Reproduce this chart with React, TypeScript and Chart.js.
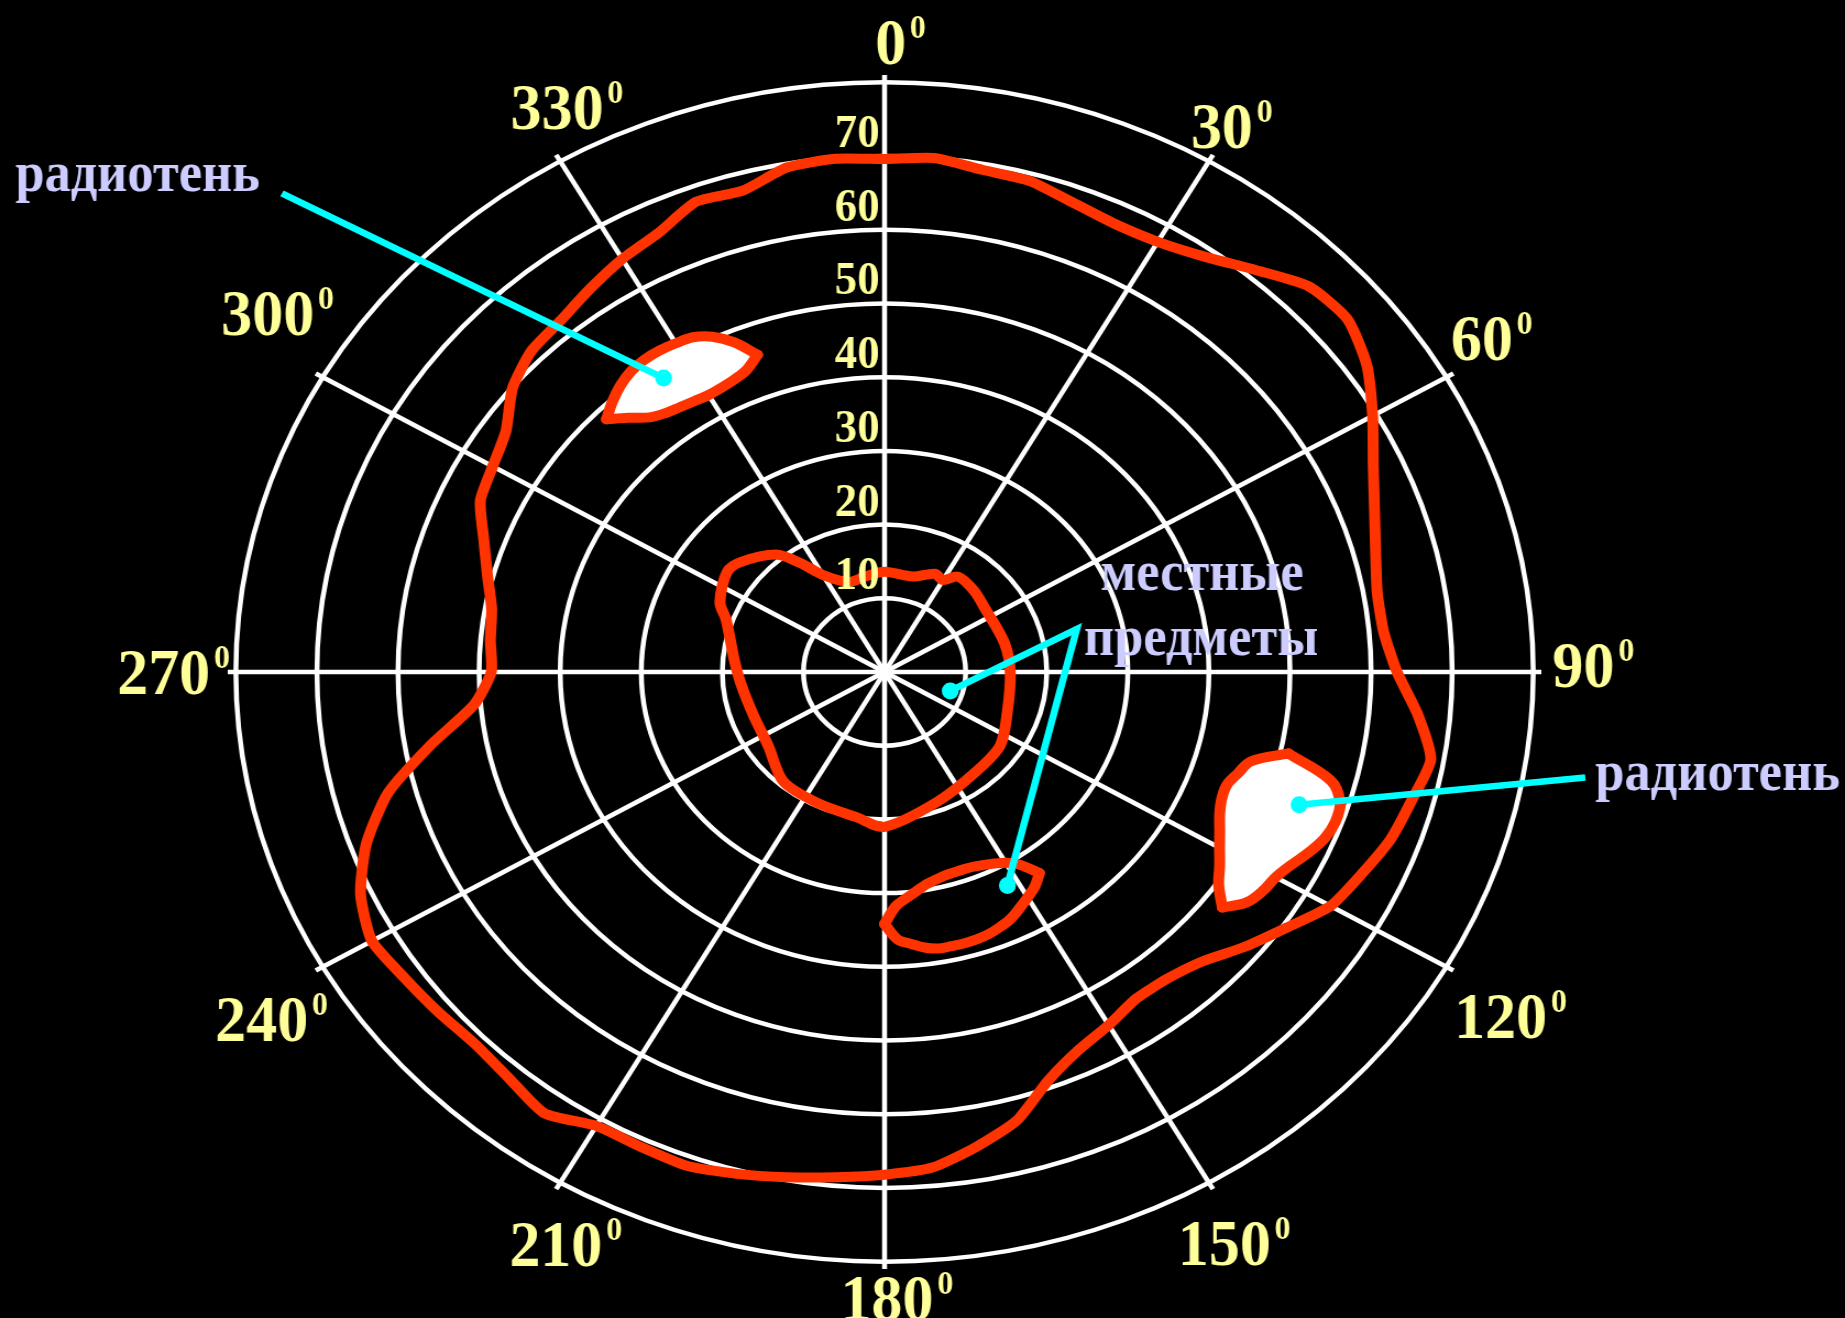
import React, { useEffect, useRef } from 'react';
import { Chart, registerables } from 'chart.js';

Chart.register(...registerables);

// ---------- page / stretch ----------
const PAGE_W = 1845;
const PAGE_H = 1318;
const CANVAS_W = 1677;
const STRETCH = PAGE_W / CANVAS_W; // the picture is drawn as an ellipse (wider than tall)

// ---------- categories (bearing, degrees, one slot every 2.5°) ----------
const ANGLE_STEP = 2.5;
const bearings = Array.from({ length: 360 / ANGLE_STEP }, (_, i) => i * ANGLE_STEP);

// ---------- radial axis ----------
const ringValues = [0, 10, 20, 30, 40, 50, 60, 70, 80];
const tickLabelValues = [10, 20, 30, 40, 50, 60, 70];
const tickLabels = ['10', '20', '30', '40', '50', '60', '70'];
const degreeLabels = ['0', '30', '60', '90', '120', '150', '180', '210', '240', '270', '300', '330'];

// ---------- series ----------
// detection range boundary
const coverageBearings = [
  0, 5, 10, 15, 20, 25, 30, 35, 40, 45, 50, 55,
  60, 65, 70, 75, 80, 85, 90, 95, 100, 105, 110, 115,
  120, 125, 130, 135, 140, 145, 150, 155, 160, 165, 170, 175,
  180, 185, 190, 195, 200, 205, 210, 215, 220, 225, 230, 235,
  240, 245, 250, 255, 260, 265, 270, 275, 280, 285, 290, 295,
  300, 305, 310, 315, 320, 325, 330, 335, 340, 345, 350, 355,
];
const coverage = [
  69.6, 70.0, 69.2, 69.0, 67.8, 67.1, 67.4, 68.8, 71.2, 74.0, 74.5, 72.6,
  69.5, 66.5, 64.3, 62.7, 61.7, 61.8, 63.2, 66.0, 68.4, 67.3, 66.4, 64.9,
  63.5, 60.5, 58.0, 55.5, 54.3, 54.1, 55.3, 56.6, 59.0, 63.0, 65.4, 67.5,
  68.2, 68.8, 69.6, 70.5, 71.3, 71.1, 71.1, 73.1, 72.0, 71.4, 71.8, 72.3,
  73.0, 71.3, 68.0, 63.4, 56.8, 50.8, 48.5, 48.8, 49.2, 50.7, 52.6, 55.0,
  55.8, 57.0, 59.9, 61.6, 62.2, 63.4, 64.7, 65.8, 67.9, 67.6, 69.5, 69.9,
];

// ground clutter around the radar
const clutterAngles = [0, 15, 25, 30, 35, 45, 55, 75, 90, 110, 125, 140, 160, 180, 190, 205, 220, 235, 250, 265, 275, 290, 295, 305, 310, 320, 325, 330, 340, 350];
const clutterValues = [13.6, 13.4, 14.7, 14.4, 15.8, 15.6, 15.1, 15.3, 15.5, 16.1, 17.4, 17.6, 18.8, 21.0, 20.0, 19.6, 19.4, 17.5, 17.2, 17.8, 18.6, 20.8, 22.4, 23.7, 23.2, 20.8, 18.0, 15.2, 13.0, 13.2];

// radio shadow, north-west
const shadowNWAngles = [315, 317.5, 320, 322.5, 325, 327.5, 330, 332.5, 335, 337.5, 340];
const shadowNWOuter = [48.5, 49.7, 50.7, 51.4, 51.7, 51.7, 51.5, 51.2, 50.2, 48.4, 45.8];
const shadowNWInner = [48.5, 46.8, 45.1, 44.3, 43.9, 43.6, 43.4, 43.5, 43.8, 44.4, 45.8];

// radio shadow, east
const shadowEAngles = [102.5, 105, 107.5, 110, 112.5, 115, 117.5, 120, 122.5, 125, 127.5];
const shadowEOuter = [51.0, 57.0, 58.9, 59.2, 58.8, 57.8, 56.6, 55.7, 55.3, 54.5, 52.5];
const shadowEInner = [51.0, 46.8, 45.7, 44.9, 45.0, 45.6, 46.6, 47.7, 49.0, 50.3, 52.5];

// local object, south
const clutterSAngles = [145, 147.5, 150, 152.5, 155, 157.5, 160, 162.5, 165, 167.5, 170, 172.5, 175, 177.5, 180];
const clutterSOuter = [33.3, 34.5, 35.3, 36.1, 36.9, 37.4, 37.8, 38.0, 38.1, 38.1, 38.1, 37.7, 37.0, 36.3, 34.2];
const clutterSInner = [33.3, 31.0, 29.9, 29.3, 28.9, 28.6, 28.5, 28.5, 28.6, 28.9, 29.3, 30.0, 30.8, 31.8, 34.2];

// ---------- annotations (polar anchors: bearing, range) ----------
const annotationTexts = ['радиотень', 'радиотень', 'местные', 'предметы'];
const annotationBearings = [310.3, 100.35, 74.2, 86.6];
const annotationRanges = [101.0, 89.1, 40.7, 39.1];
const annotationAligns: CanvasTextAlign[] = ['right', 'left', 'center', 'center'];

const leaderBearings = [[311.15, 325.65], [99.4, 109.4], [107.6, 76.2, 152.4]];
const leaderRanges = [[98.7, 48.3], [87.6, 54.2], [8.5, 24.4, 32.7]];
const leaderDotBearings = [325.65, 109.4, 107.6, 152.4];
const leaderDotRanges = [48.3, 54.2, 8.5, 32.7];

// degree label anchors
const degreeLabelBearings = [0.5, 29.3, 58.4, 89.4, 121.6, 151.6, 179.8, 207.6, 238.5, 270, 302.6, 332.2];
const degreeLabelRanges = [85.5, 85.0, 86.5, 86.2, 89.2, 88.1, 84.9, 87.5, 90.1, 88.9, 90.3, 86.6];

// ---------- styles ----------
const RED = '#FF3300';
const YELLOW = '#FFFF99';
const LAVENDER = '#CCCCFF';
const CYAN = '#00FFFF';
const FONT = '"Liberation Serif", "Times New Roman", serif';
const CONDENSE = 0.92;

const series = (angs: number[], vals: number[]) =>
  bearings.map((b) => {
    const k = angs.indexOf(b);
    return k >= 0 ? vals[k] : null;
  });

const lineBase = {
  borderColor: RED,
  borderWidth: 10,
  pointRadius: 0,
  pointHoverRadius: 0,
  fill: false,
  borderJoinStyle: 'round' as const,
  borderCapStyle: 'round' as const,
};

const overlayPlugin = {
  id: 'overlay',
  afterDatasetsDraw(chart: any) {
    const s = chart.scales.r;
    const ctx: CanvasRenderingContext2D = chart.ctx;
    const at = (bearing: number, value: number) =>
      s.getPointPosition(bearing / ANGLE_STEP, s.getDistanceFromCenterForValue(value));

    const text = (str: string, x: number, y: number, size: number, color: string, align: CanvasTextAlign, sx: number) => {
      ctx.save();
      ctx.translate(x, y);
      ctx.scale(sx / STRETCH, 1);
      ctx.font = `bold ${size}px ${FONT}`;
      ctx.fillStyle = color;
      ctx.textAlign = align;
      ctx.textBaseline = 'alphabetic';
      ctx.fillText(str, 0, 0);
      ctx.restore();
    };

    // range tick labels along the 0° axis
    tickLabelValues.forEach((v, i) => {
      const y = s.yCenter - s.getDistanceFromCenterForValue(v) - 9;
      text(tickLabels[i], s.xCenter - 5 / STRETCH, y, 47, YELLOW, 'right', 0.95);
    });

    // bearing labels with superscript "0"
    degreeLabels.forEach((lbl, i) => {
      const p = at(degreeLabelBearings[i], degreeLabelRanges[i]);
      ctx.save();
      ctx.translate(p.x, p.y);
      ctx.scale(0.94 / STRETCH, 1);
      ctx.fillStyle = YELLOW;
      ctx.textAlign = 'left';
      ctx.textBaseline = 'alphabetic';
      ctx.font = `bold 66px ${FONT}`;
      const w = ctx.measureText(lbl).width;
      ctx.fillText(lbl, -w / 2, 22);
      ctx.font = `bold 34px ${FONT}`;
      ctx.fillText('0', w / 2 + 4, 22 - 26);
      ctx.restore();
    });

    // leader lines
    ctx.save();
    ctx.strokeStyle = CYAN;
    ctx.lineWidth = 6.5;
    ctx.lineJoin = 'miter';
    ctx.lineCap = 'butt';
    leaderBearings.forEach((bs, i) => {
      ctx.beginPath();
      bs.forEach((b, j) => {
        const p = at(b, leaderRanges[i][j]);
        if (j === 0) ctx.moveTo(p.x, p.y);
        else ctx.lineTo(p.x, p.y);
      });
      ctx.stroke();
    });
    ctx.fillStyle = CYAN;
    leaderDotBearings.forEach((b, i) => {
      const p = at(b, leaderDotRanges[i]);
      ctx.beginPath();
      ctx.ellipse(p.x, p.y, 8.5 / STRETCH, 8.5, 0, 0, Math.PI * 2);
      ctx.fill();
    });
    ctx.restore();

    // annotation texts
    annotationTexts.forEach((t, i) => {
      const p = at(annotationBearings[i], annotationRanges[i]);
      text(t, p.x, p.y, 57, LAVENDER, annotationAligns[i], CONDENSE);
    });
  },
};

export default function App() {
  const ref = useRef<HTMLCanvasElement>(null);

  useEffect(() => {
    document.body.style.margin = '0';
    document.body.style.background = '#000';
    const chart = new Chart(ref.current as HTMLCanvasElement, {
      type: 'radar',
      data: {
        labels: bearings,
        datasets: [
          { label: 'Граница зоны обнаружения', data: series(coverageBearings, coverage), ...lineBase, tension: 0.2, spanGaps: true },
          { label: 'Местные предметы', data: series(clutterAngles, clutterValues), ...lineBase, tension: 0.3, spanGaps: true },
          { label: 'Радиотень СЗ (ближняя граница)', data: series(shadowNWAngles, shadowNWInner), ...lineBase, tension: 0.35, spanGaps: false },
          {
            label: 'Радиотень СЗ (дальняя граница)', data: series(shadowNWAngles, shadowNWOuter), ...lineBase,
            tension: 0.35, spanGaps: false, fill: 2, backgroundColor: '#FFFFFF',
          },
          { label: 'Радиотень В (ближняя граница)', data: series(shadowEAngles, shadowEInner), ...lineBase, tension: 0.35, spanGaps: false },
          {
            label: 'Радиотень В (дальняя граница)', data: series(shadowEAngles, shadowEOuter), ...lineBase,
            tension: 0.35, spanGaps: false, fill: 4, backgroundColor: '#FFFFFF',
          },
          { label: 'Местный предмет Ю (ближняя граница)', data: series(clutterSAngles, clutterSInner), ...lineBase, tension: 0.35, spanGaps: false },
          { label: 'Местный предмет Ю (дальняя граница)', data: series(clutterSAngles, clutterSOuter), ...lineBase, tension: 0.35, spanGaps: false },
        ] as any,
      },
      options: {
        animation: false,
        responsive: true,
        maintainAspectRatio: false,
        devicePixelRatio: 1,
        events: [],
        layout: { padding: { left: 207, top: 75, right: 276, bottom: 49 } },
        plugins: {
          legend: { display: false },
          tooltip: { enabled: false },
          filler: { drawTime: 'beforeDatasetsDraw' },
        } as any,
        scales: {
          r: {
            min: 0,
            max: 81,
            startAngle: 0,
            ticks: { display: false, stepSize: 10 },
            afterBuildTicks: (scale: any) => {
              scale.ticks = ringValues.map((value) => ({ value }));
            },
            grid: { circular: true, color: '#FFFFFF', lineWidth: 4.5 },
            angleLines: {
              display: true,
              color: '#FFFFFF',
              lineWidth: (c: any) => (bearings[c.index] % 30 === 0 ? 4.5 : 0),
            },
            pointLabels: { display: false },
          },
        } as any,
      },
      plugins: [overlayPlugin],
    });
    return () => chart.destroy();
  }, []);

  return (
    <div
      style={{
        position: 'absolute',
        left: 0,
        top: 0,
        width: PAGE_W,
        height: PAGE_H,
        background: '#000',
        overflow: 'hidden',
      }}
    >
      <div
        style={{
          position: 'relative',
          width: CANVAS_W,
          height: PAGE_H,
          transform: `scaleX(${STRETCH})`,
          transformOrigin: '0 0',
        }}
      >
        <canvas ref={ref} />
      </div>
    </div>
  );
}
